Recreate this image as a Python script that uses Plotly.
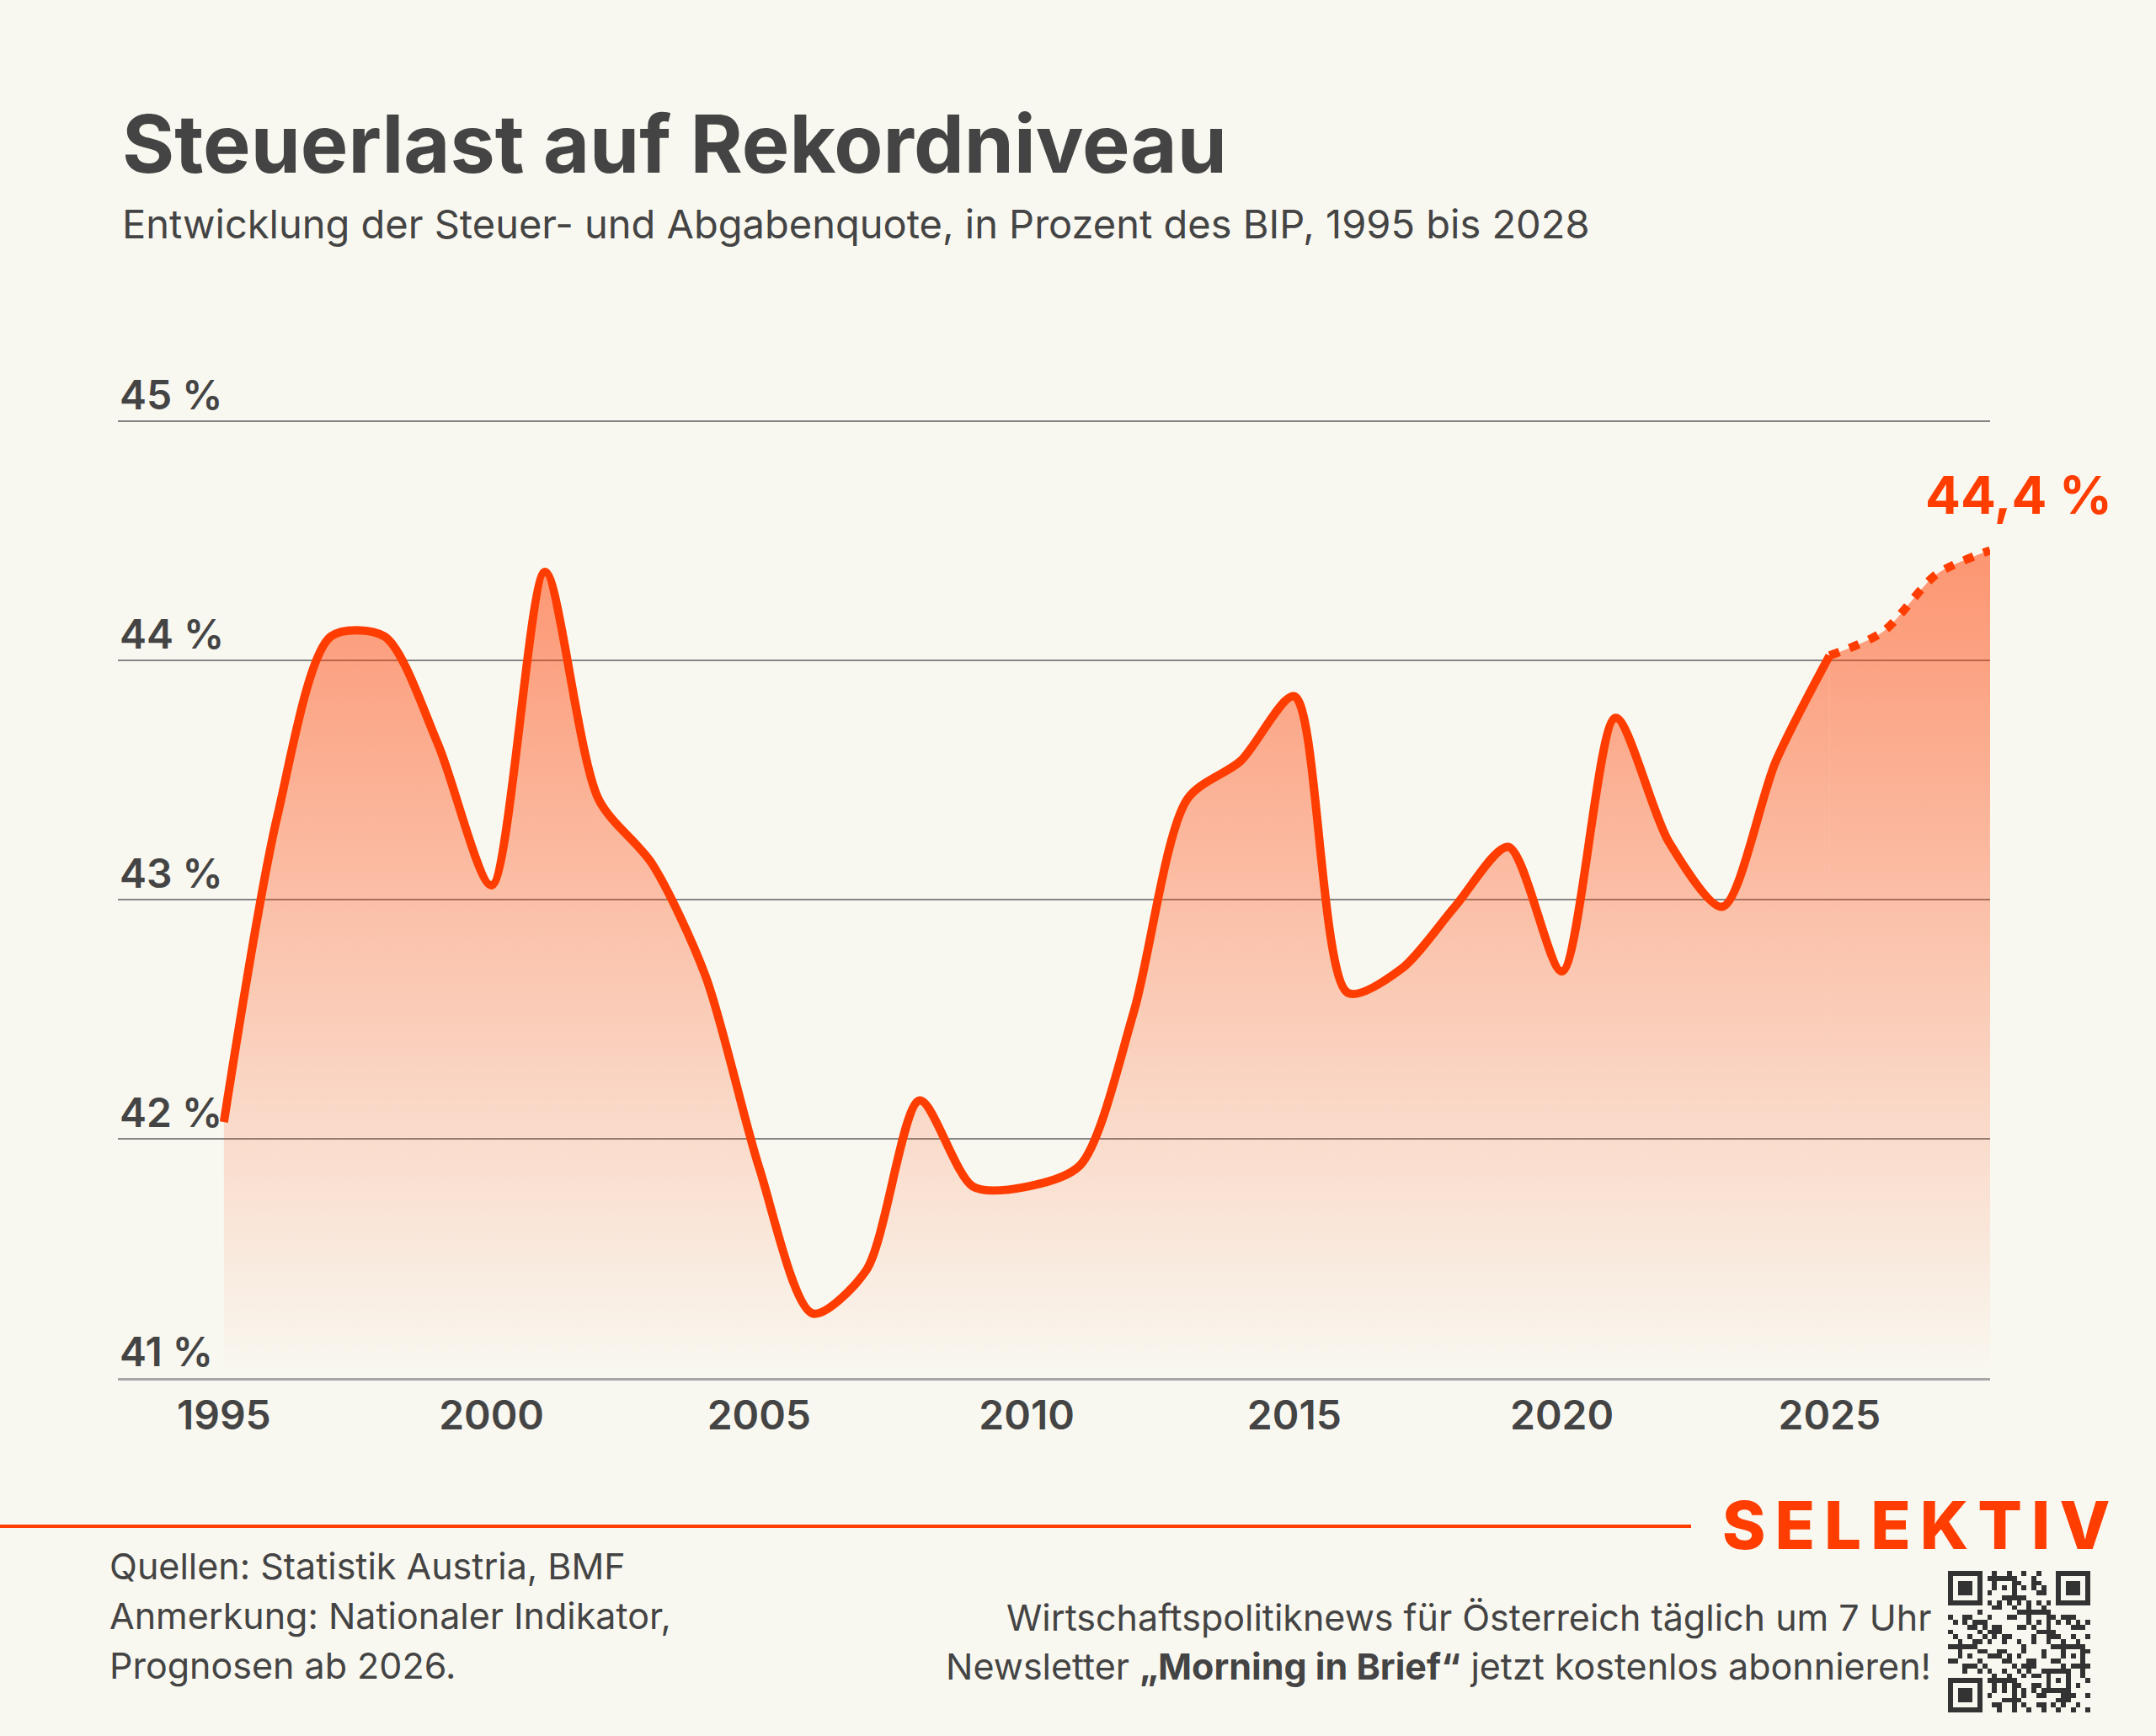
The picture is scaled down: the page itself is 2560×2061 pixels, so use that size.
import plotly.graph_objects as go

W, H = 2560, 2061

years = list(range(1995, 2029))
quote = [42.07, 43.35, 44.10, 44.10, 43.65, 43.06, 44.37, 43.42, 43.15, 42.68,
         41.88, 41.27, 41.45, 42.16, 41.80, 41.80, 41.89, 42.53, 43.42, 43.58,
         43.85, 42.61, 42.71, 42.97, 43.22, 42.70, 43.76, 43.24, 42.97, 43.58,
         44.02, 44.12, 44.36, 44.46]
forecast_start = 2025
y_ticks = [41, 42, 43, 44, 45]
y_tick_labels = ["41 %", "42 %", "43 %", "44 %", "45 %"]
x_ticks = [1995, 2000, 2005, 2010, 2015, 2020, 2025]
end_label = "44,4 %"

BG = "#f9f8f0"
ORANGE = "#ff3d00"
DARK = "#444444"
FONT = "Inter"

def px_x(p):
    return p / W

def px_y(p):
    return 1 - p / H

i0 = years.index(forecast_start)
hist_x, hist_y = years[:i0 + 1], quote[:i0 + 1]
fc_x, fc_y = years[i0:], quote[i0:]

grad = dict(type="vertical", start=41, stop=44.47,
            colorscale=[[0, "rgba(255,61,0,0.0)"], [1, "rgba(255,61,0,0.53)"]])

fig = go.Figure()
fig.add_trace(go.Scatter(
    x=hist_x, y=hist_y, mode="lines", fill="tozeroy", fillgradient=grad,
    line=dict(color=ORANGE, width=10, shape="spline", smoothing=0.8),
    hoverinfo="skip", showlegend=False))
fig.add_trace(go.Scatter(
    x=fc_x, y=fc_y, mode="lines", fill="tozeroy", fillgradient=grad,
    line=dict(color=ORANGE, width=10, shape="spline", smoothing=0.8, dash="12px,13px"),
    hoverinfo="skip", showlegend=False))

# QR code decoration
N = 29
qr = [[0] * N for _ in range(N)]
for r in range(N):
    for c in range(N):
        if ((r * 7 + c * 11 + (r * c) % 7) % 3 == 0) or ((r + 2 * c) % 5 == 0 and (r * c) % 2 == 1):
            qr[r][c] = 1
def finder(r0, c0):
    for r in range(-1, 8):
        for c in range(-1, 8):
            rr, cc = r0 + r, c0 + c
            if 0 <= rr < N and 0 <= cc < N:
                if r in (-1, 7) or c in (-1, 7):
                    qr[rr][cc] = 0
                elif r in (0, 6) or c in (0, 6) or (2 <= r <= 4 and 2 <= c <= 4):
                    qr[rr][cc] = 1
                else:
                    qr[rr][cc] = 0
finder(0, 0)
finder(0, N - 7)
finder(N - 7, 0)
for r in range(-2, 3):
    for c in range(-2, 3):
        qr[22 + r][22 + c] = 1 if (abs(r) == 2 or abs(c) == 2 or (r == 0 and c == 0)) else 0
for k in range(8, N - 8):
    qr[6][k] = 1 if k % 2 == 0 else 0
    qr[k][6] = 1 if k % 2 == 0 else 0

fig.add_trace(go.Heatmap(
    z=qr, xaxis="x2", yaxis="y2", showscale=False, hoverinfo="skip",
    colorscale=[[0, BG], [1, "#333333"]], zmin=0, zmax=1, xgap=0, ygap=0))

annotations = []
# y tick labels above gridlines
for v, t in zip(y_ticks, y_tick_labels):
    annotations.append(dict(
        x=px_x(140), xref="paper", y=v, yref="y", xanchor="left", yanchor="middle",
        yshift=32, text=t, showarrow=False,
        font=dict(family=FONT, size=48, color=DARK, weight=600)))

# end label
annotations.append(dict(
    x=years[-1], y=quote[-1], xref="x", yref="y", xanchor="center", yanchor="middle",
    xshift=34, yshift=66, text=end_label, showarrow=False,
    font=dict(family=FONT, size=62, color=ORANGE, weight=700)))

# title & subtitle
annotations.append(dict(
    x=px_x(143), y=px_y(170), xref="paper", yref="paper", xanchor="left", yanchor="middle",
    text="Steuerlast auf Rekordniveau", showarrow=False,
    font=dict(family=FONT, size=95, color=DARK, weight=700)))
annotations.append(dict(
    x=px_x(143), y=px_y(266), xref="paper", yref="paper", xanchor="left", yanchor="middle",
    text="Entwicklung der Steuer- und Abgabenquote, in Prozent des BIP, 1995 bis 2028",
    showarrow=False, font=dict(family=FONT, size=47, color=DARK, weight=400)))

# footer left
left_lines = ["Quellen: Statistik Austria, BMF", "Anmerkung: Nationaler Indikator,",
              "Prognosen ab 2026."]
for yy, t in zip([1859, 1918, 1977], left_lines):
    annotations.append(dict(
        x=px_x(128), y=px_y(yy), xref="paper", yref="paper", xanchor="left", yanchor="middle",
        text=t, showarrow=False, font=dict(family=FONT, size=43, color=DARK, weight=400)))

# footer right
right_lines = ["Wirtschaftspolitiknews für Österreich täglich um 7 Uhr",
               "Newsletter <b>„Morning in Brief“</b> jetzt kostenlos abonnieren!"]
for yy, t in zip([1920, 1978], right_lines):
    annotations.append(dict(
        x=px_x(2295), y=px_y(yy), xref="paper", yref="paper", xanchor="right", yanchor="middle",
        text=t, showarrow=False, font=dict(family=FONT, size=43, color=DARK, weight=400)))

# brand
annotations.append(dict(
    x=px_x(2518), y=px_y(1810), xref="paper", yref="paper", xanchor="right", yanchor="middle",
    text='<span style="letter-spacing:11px">SELEKTIV</span>', showarrow=False,
    font=dict(family=FONT, size=78, color=ORANGE, weight=800)))

shapes = [dict(type="line", xref="paper", yref="paper", x0=0, x1=px_x(2008),
               y0=px_y(1812), y1=px_y(1812), line=dict(color=ORANGE, width=4))]

fig.update_layout(
    width=W, height=H, margin=dict(l=0, r=0, t=0, b=0),
    paper_bgcolor=BG, plot_bgcolor=BG, showlegend=False,
    xaxis=dict(domain=[px_x(140), px_x(2363)], range=[1993.02, 2028],
               tickvals=x_ticks, ticktext=[str(v) for v in x_ticks],
               showgrid=False, zeroline=False, ticks="", showline=True,
               linecolor="#a6a6a6", linewidth=3,
               tickfont=dict(family=FONT, size=48, color=DARK, weight=600)),
    yaxis=dict(domain=[px_y(1636), px_y(429)], range=[41, 45.25],
               tickvals=y_ticks, showticklabels=False, showgrid=True,
               gridcolor="#858585", gridwidth=1.5, zeroline=False, ticks=""),
    xaxis2=dict(domain=[px_x(2313), px_x(2482)], anchor="y2", visible=False,
                range=[-0.5, N - 0.5]),
    yaxis2=dict(domain=[px_y(2033), px_y(1865)], anchor="x2", visible=False,
                range=[N - 0.5, -0.5]),
    annotations=annotations, shapes=shapes,
)

fig.write_html("out.html",
               config={"displayModeBar": False, "staticPlot": True},
               post_script="document.body.style.margin='0';document.body.style.background='%s';" % BG)
